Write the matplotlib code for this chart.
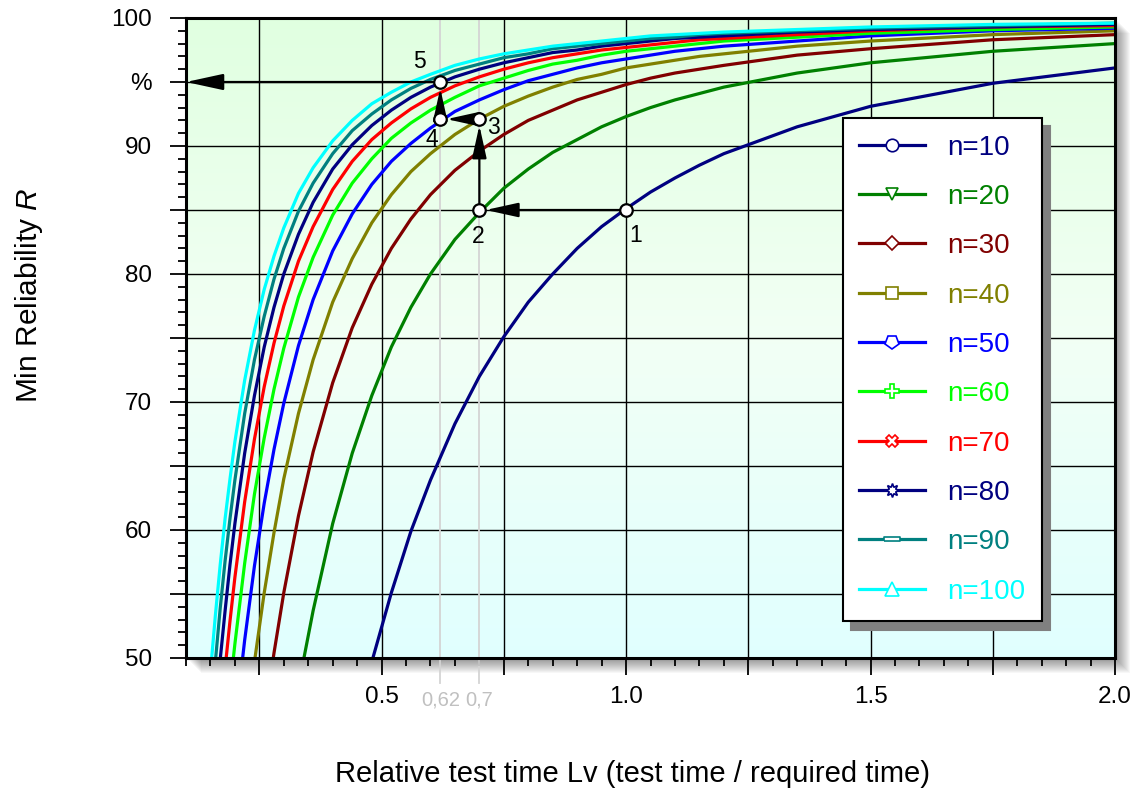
import numpy as np
import matplotlib
matplotlib.use("Agg")
import matplotlib.pyplot as plt
from matplotlib.lines import Line2D
from matplotlib.markers import MarkerStyle
from matplotlib.patches import Rectangle
from matplotlib.transforms import Affine2D, blended_transform_factory

plt.rcParams['font.family'] = ['Liberation Sans', 'DejaVu Sans']
plt.rcParams['mathtext.fontset'] = 'custom'
plt.rcParams['mathtext.it'] = 'Liberation Sans:italic'
plt.rcParams['mathtext.rm'] = 'Liberation Sans'

# relative test time Lv (x axis)
lv = [0.14, 0.15, 0.16, 0.17, 0.18, 0.19, 0.20, 0.22, 0.24, 0.26, 0.28, 0.30,
      0.33, 0.36, 0.40, 0.44, 0.48, 0.52, 0.56, 0.60, 0.65, 0.70, 0.75, 0.80,
      0.85, 0.90, 0.95, 1.00, 1.05, 1.10, 1.15, 1.20, 1.35, 1.50, 1.75, 2.00]

# min reliability R in % for each sample size n
r_n10 = [0.0, 0.1, 0.2, 0.4, 0.7, 1.2, 1.8, 3.6, 6.1, 9.2, 12.8, 16.7, 22.8, 28.9, 36.6, 43.5,
         49.7, 55.1, 59.9, 63.9, 68.3, 72.0, 75.1, 77.8,
         80.0, 82.0, 83.7, 85.1, 86.4, 87.5, 88.5, 89.4, 91.5, 93.1, 94.9, 96.1]
r_n20 = [1.6, 2.8, 4.3, 6.2, 8.3, 10.8, 13.4, 19.0, 24.7, 30.4, 35.8, 40.9, 47.8, 53.7, 60.5, 66.0,
         70.5, 74.3, 77.4, 80.0, 82.7, 84.8, 86.7, 88.2,
         89.5, 90.5, 91.5, 92.3, 93.0, 93.6, 94.1, 94.6, 95.7, 96.5, 97.4, 98.0]
r_n30 = [6.5, 9.2, 12.3, 15.6, 19.1, 22.6, 26.2, 33.0, 39.4, 45.2, 50.4, 55.1, 61.1, 66.1, 71.5, 75.8,
         79.2, 82.0, 84.3, 86.2, 88.1, 89.6, 90.9, 92.0,
         92.8, 93.6, 94.2, 94.8, 95.3, 95.7, 96.0, 96.3, 97.1, 97.6, 98.3, 98.7]
r_n40 = [12.8, 16.7, 20.8, 24.8, 28.9, 32.8, 36.6, 43.5, 49.7, 55.1, 59.8, 64.0, 69.1, 73.3, 77.8, 81.2,
         84.0, 86.2, 88.0, 89.4, 90.9, 92.1, 93.1, 93.9,
         94.6, 95.2, 95.6, 96.1, 96.4, 96.7, 97.0, 97.2, 97.8, 98.2, 98.7, 99.0]
r_n50 = [19.4, 23.9, 28.4, 32.8, 37.0, 41.0, 44.7, 51.4, 57.2, 62.1, 66.3, 69.9, 74.4, 78.0, 81.8, 84.7,
         87.0, 88.8, 90.2, 91.4, 92.7, 93.6, 94.4, 95.1,
         95.6, 96.1, 96.5, 96.8, 97.1, 97.4, 97.6, 97.8, 98.2, 98.6, 99.0, 99.2]
r_n60 = [25.4, 30.4, 35.1, 39.5, 43.7, 47.6, 51.1, 57.4, 62.8, 67.2, 71.0, 74.2, 78.2, 81.3, 84.6, 87.1,
         89.0, 90.6, 91.8, 92.8, 93.8, 94.7, 95.3, 95.9,
         96.4, 96.7, 97.1, 97.4, 97.6, 97.8, 98.0, 98.2, 98.5, 98.8, 99.1, 99.3]
r_n70 = [30.9, 36.0, 40.7, 45.1, 49.2, 52.9, 56.3, 62.2, 67.1, 71.2, 74.6, 77.5, 81.0, 83.7, 86.6, 88.8,
         90.5, 91.8, 92.9, 93.8, 94.7, 95.4, 96.0, 96.5,
         96.9, 97.2, 97.5, 97.7, 97.9, 98.1, 98.3, 98.4, 98.7, 99.0, 99.3, 99.4]
r_n80 = [35.8, 40.9, 45.6, 49.9, 53.7, 57.3, 60.5, 66.0, 70.5, 74.3, 77.4, 80.0, 83.1, 85.6, 88.2, 90.1,
         91.6, 92.8, 93.8, 94.6, 95.4, 96.0, 96.5, 96.9,
         97.3, 97.5, 97.8, 98.0, 98.2, 98.4, 98.5, 98.6, 98.9, 99.1, 99.3, 99.5]
r_n90 = [40.2, 45.2, 49.7, 53.9, 57.6, 60.9, 63.9, 69.1, 73.3, 76.7, 79.6, 82.0, 84.9, 87.1, 89.4, 91.2,
         92.5, 93.6, 94.5, 95.2, 95.9, 96.4, 96.9, 97.2,
         97.6, 97.8, 98.0, 98.2, 98.4, 98.5, 98.7, 98.8, 99.0, 99.2, 99.4, 99.6]
r_n100 = [44.0, 48.9, 53.3, 57.3, 60.9, 64.0, 66.9, 71.7, 75.6, 78.8, 81.4, 83.6, 86.3, 88.3, 90.4, 92.0,
          93.3, 94.2, 95.0, 95.6, 96.3, 96.8, 97.2, 97.5,
          97.8, 98.0, 98.2, 98.4, 98.6, 98.7, 98.8, 98.9, 99.1, 99.3, 99.5, 99.6]

curves = [r_n10, r_n20, r_n30, r_n40, r_n50, r_n60, r_n70, r_n80, r_n90, r_n100]
labels = ['n=10', 'n=20', 'n=30', 'n=40', 'n=50', 'n=60', 'n=70', 'n=80', 'n=90', 'n=100']
colors = ['#000080', '#008000', '#800000', '#808000', '#0000ff',
          '#00ff00', '#ff0000', '#000080', '#008080', '#00ffff']

# worked example: 1 -> 2 -> 3 -> 4 -> 5 -> axis
ex_x = [1.0, 0.7, 0.7, 0.62, 0.62]
ex_y = [85.0, 85.0, 92.1, 92.1, 95.0]
ex_lbl = ['1', '2', '3', '4', '5']
ex_off = [(7, -18), (-1, -19), (10, -6), (-6, -15), (-15, 15)]
ref_x = [0.62, 0.7]
ref_lbl = ['0,62', '0,7']

W, H = 1134, 792
fig = plt.figure(figsize=(W / 100, H / 100), dpi=100)
L, B, R_, T = 186, 658, 1115, 18
ax = fig.add_axes([L / W, 1 - B / H, (R_ - L) / W, (B - T) / H])

# soft drop shadow of the plot frame
for i in range(1, 16):
    fig.patches.append(Rectangle(((L + i) / W, 1 - (B + i) / H), (R_ - L) / W, (B - T) / H,
                                 transform=fig.transFigure, color='black', alpha=0.03,
                                 lw=0, zorder=-1))

# background gradient (green top -> cyan bottom)
top = np.array([0.88, 1.0, 0.88])
mid = np.array([0.95, 1.0, 0.96])
bot = np.array([0.88, 1.0, 1.0])
t = np.linspace(0, 1, 200)[:, None]
grad = np.where(t < 0.5, top + (mid - top) * (t / 0.5), mid + (bot - mid) * ((t - 0.5) / 0.5))
ax.imshow(grad[:, None, :], extent=[0.1, 2.0, 50, 100], aspect='auto', zorder=0,
          interpolation='bilinear')

ax.set_xlim(0.1, 2.0)
ax.set_ylim(50, 100)

ax.set_axisbelow(True)
ax.grid(True, which='major', color='black', lw=1.0)

for xv in ref_x:
    ax.axvline(xv, ymin=-0.039, ymax=1, color='#d4d4d4', lw=1.3, clip_on=False, zorder=1)

for r, c in zip(curves, colors):
    ax.plot(lv, r, color=c, lw=2.3, zorder=2, solid_capstyle='butt', solid_joinstyle='round')

# arrows of the worked example
for i in range(len(ex_x) - 1):
    ax.annotate('', xy=(ex_x[i + 1], ex_y[i + 1]), xytext=(ex_x[i], ex_y[i]),
                arrowprops=dict(arrowstyle='-|>,head_length=1.0,head_width=0.22',
                                mutation_scale=20, color='black', lw=1.6,
                                shrinkA=0, shrinkB=4.5), zorder=4)
ax.annotate('', xy=(0.1, ex_y[-1]), xytext=(ex_x[-1], ex_y[-1]),
            arrowprops=dict(arrowstyle='-|>,head_length=1.15,head_width=0.25',
                            mutation_scale=20, color='black', lw=1.6,
                            shrinkA=0, shrinkB=0), zorder=4)
ax.plot(ex_x, ex_y, 'o', ms=9, mfc='white', mec='black', mew=1.6, zorder=5)
for x, y, s, off in zip(ex_x, ex_y, ex_lbl, ex_off):
    ax.annotate(s, (x, y), xytext=off, textcoords='offset points',
                ha='center', va='center', fontsize=16.5)

trans = blended_transform_factory(ax.transData, ax.transAxes)
for xv, s in zip(ref_x, ref_lbl):
    ax.text(xv, -0.066, s, transform=trans, ha='center', va='center',
            fontsize=14.5, color='#c0c0c0')

# ticks
ax.set_xticks(np.arange(0.25, 2.01, 0.25))
ax.set_xticklabels(['', '0.5', '', '1.0', '', '1.5', '', '2.0'])
ax.set_xticks(np.arange(0.1, 2.001, 0.05), minor=True)
ax.set_yticks(np.arange(50, 101, 5))
ax.set_yticklabels(['50', '', '60', '', '70', '', '80', '', '90', '%', '100'])
ax.set_yticks(np.arange(50, 101, 1), minor=True)
ax.tick_params(axis='x', which='major', length=12, width=1.3, pad=8, labelsize=17.5)
ax.tick_params(axis='x', which='minor', length=6, width=1.3)
ax.tick_params(axis='y', which='major', length=11.5, width=1.3, pad=13, labelsize=17.5)
ax.tick_params(axis='y', which='minor', length=6, width=1.3)
for sp in ax.spines.values():
    sp.set_linewidth(2.2)
    sp.set_zorder(6)

ax.set_xlabel('Relative test time Lv (test time / required time)', fontsize=21)
ax.set_ylabel('Min Reliability $R$', fontsize=21.5)
ax.xaxis.set_label_coords(0.481, -0.16)
ax.yaxis.set_label_coords(-0.152, 0.566)

# legend with open markers
pent_down = MarkerStyle('p', transform=Affine2D().rotate_deg(180))
flat_bar = [(-1, -0.28), (1, -0.28), (1, 0.28), (-1, 0.28), (-1, -0.28)]
markers = ['o', 'v', 'D', 's', pent_down, 'P', 'X', (8, 1, 0), flat_bar, '^']
msizes = [9, 9, 7.5, 8.5, 10, 10, 9, 10, 11, 10]
handles = [Line2D([], [], color=c, lw=2.3, marker=m, ms=s, mfc='white', mec=c, mew=1.2)
           for c, m, s in zip(colors, markers, msizes)]
leg = ax.legend(handles, labels, loc='upper left', bbox_to_anchor=(0.707, 0.844),
                fontsize=20, labelcolor='linecolor', frameon=True, fancybox=False,
                framealpha=1, edgecolor='black', borderpad=0.6, labelspacing=0.84,
                handlelength=2.35, handletextpad=0.8, borderaxespad=0,
                shadow={'ox': 6, 'oy': -6, 'facecolor': '#808080',
                        'edgecolor': '#808080', 'alpha': 1})
leg.get_frame().set_linewidth(1.5)
leg.set_zorder(7)

fig.savefig('out.png', dpi=100)
